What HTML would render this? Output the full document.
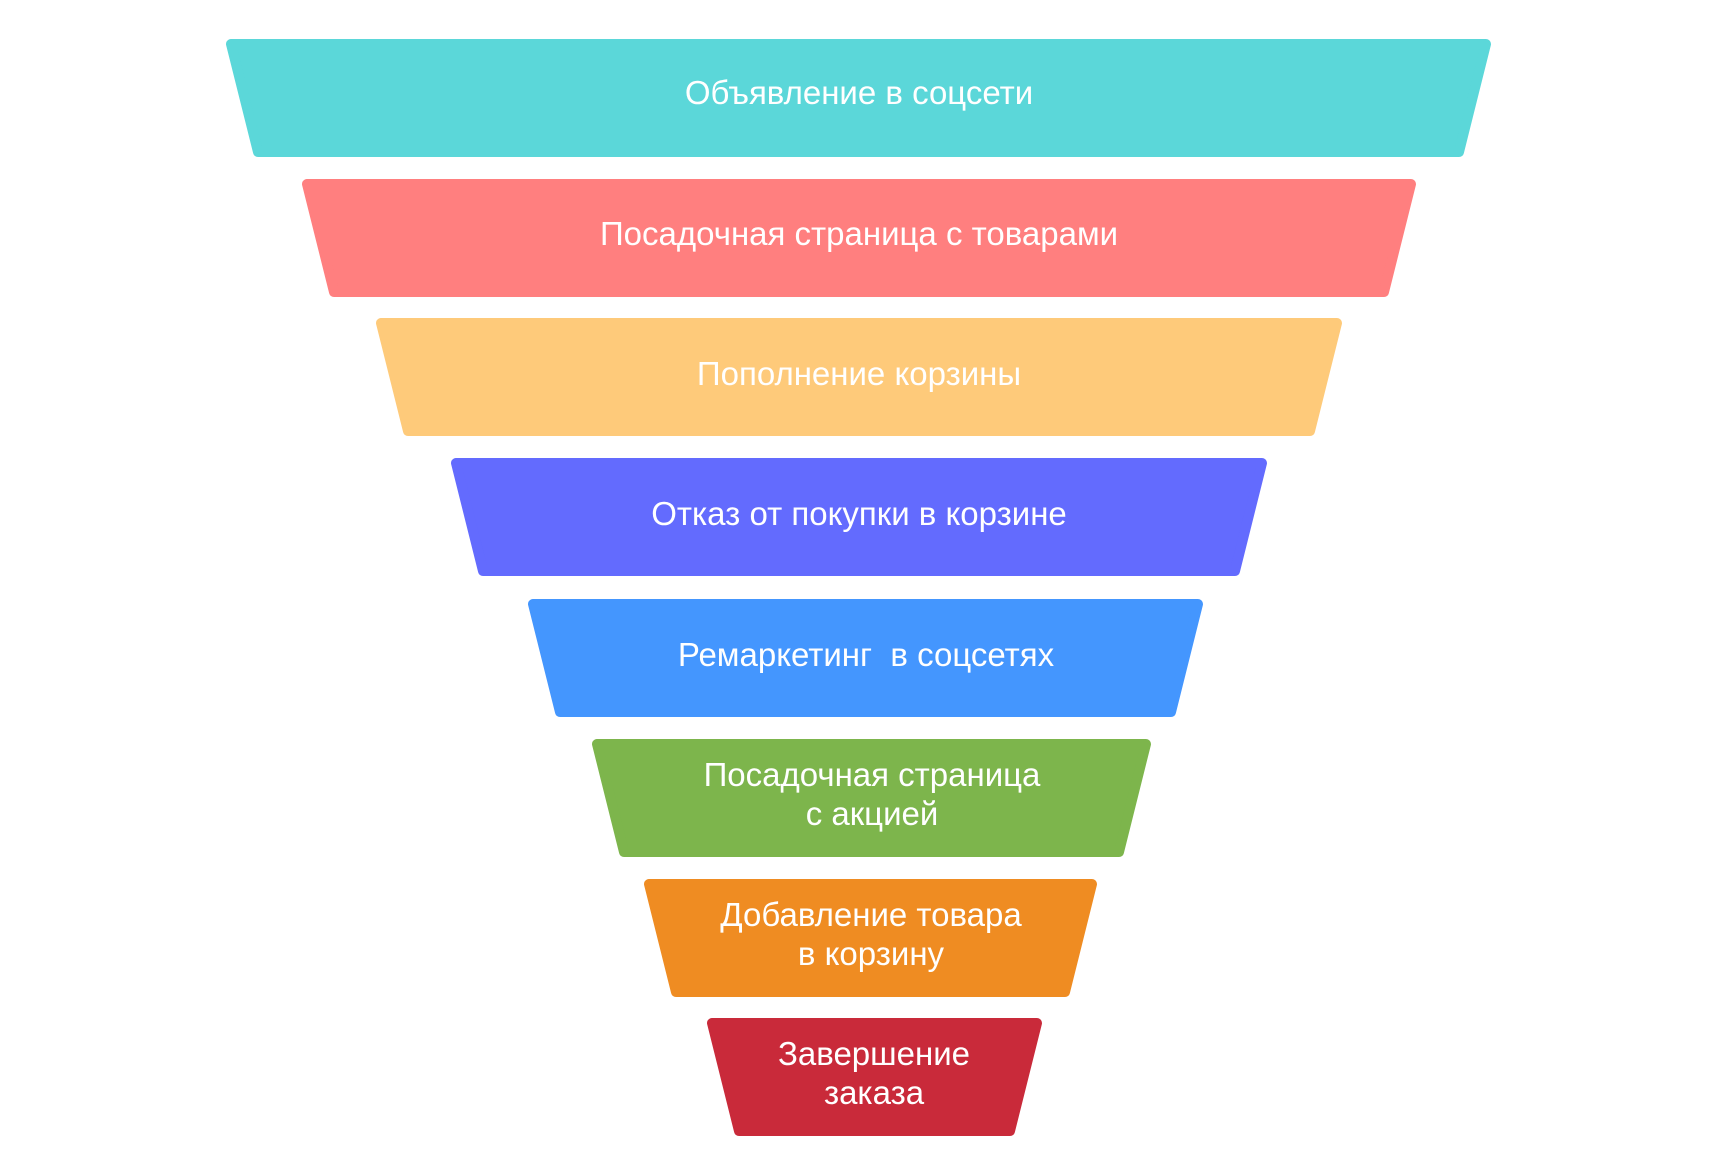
<!DOCTYPE html>
<html><head><meta charset="utf-8"><style>
html,body{margin:0;padding:0;background:#fff;}
svg{display:block}
text{font-family:"Liberation Sans",sans-serif;font-size:33px;fill:#fff;text-anchor:middle;}
</style></head><body>
<svg width="1732" height="1156" viewBox="0 0 1732 1156">
<g stroke-linejoin="round" stroke-width="10">
<polygon points="231,44 1486,44 1459,152 258,152" fill="#5BD7D9" stroke="#5BD7D9"/>
<polygon points="307,184 1411,184 1384,292 334,292" fill="#FF7F7F" stroke="#FF7F7F"/>
<polygon points="381,323 1337,323 1310,431 408,431" fill="#FECA7A" stroke="#FECA7A"/>
<polygon points="456,463 1262,463 1235,571 483,571" fill="#636BFE" stroke="#636BFE"/>
<polygon points="533,604 1198,604 1171,712 560,712" fill="#4496FE" stroke="#4496FE"/>
<polygon points="597,744 1146,744 1119,852 624,852" fill="#7DB54C" stroke="#7DB54C"/>
<polygon points="649,884 1092,884 1065,992 676,992" fill="#EF8C22" stroke="#EF8C22"/>
<polygon points="712,1023 1037,1023 1010,1131 739,1131" fill="#C92A3A" stroke="#C92A3A"/>
</g>
<text x="859" y="104">Объявление в соцсети</text>
<text x="859" y="245">Посадочная страница с товарами</text>
<text x="859" y="385">Пополнение корзины</text>
<text x="859" y="525">Отказ от покупки в корзине</text>
<text x="866" y="666">Ремаркетинг&#160; в соцсетях</text>
<text x="872" y="786">Посадочная страница</text>
<text x="872" y="825">с акцией</text>
<text x="871" y="926">Добавление товара</text>
<text x="871" y="965">в корзину</text>
<text x="874" y="1065">Завершение</text>
<text x="874" y="1104">заказа</text>
</svg>
</body></html>
